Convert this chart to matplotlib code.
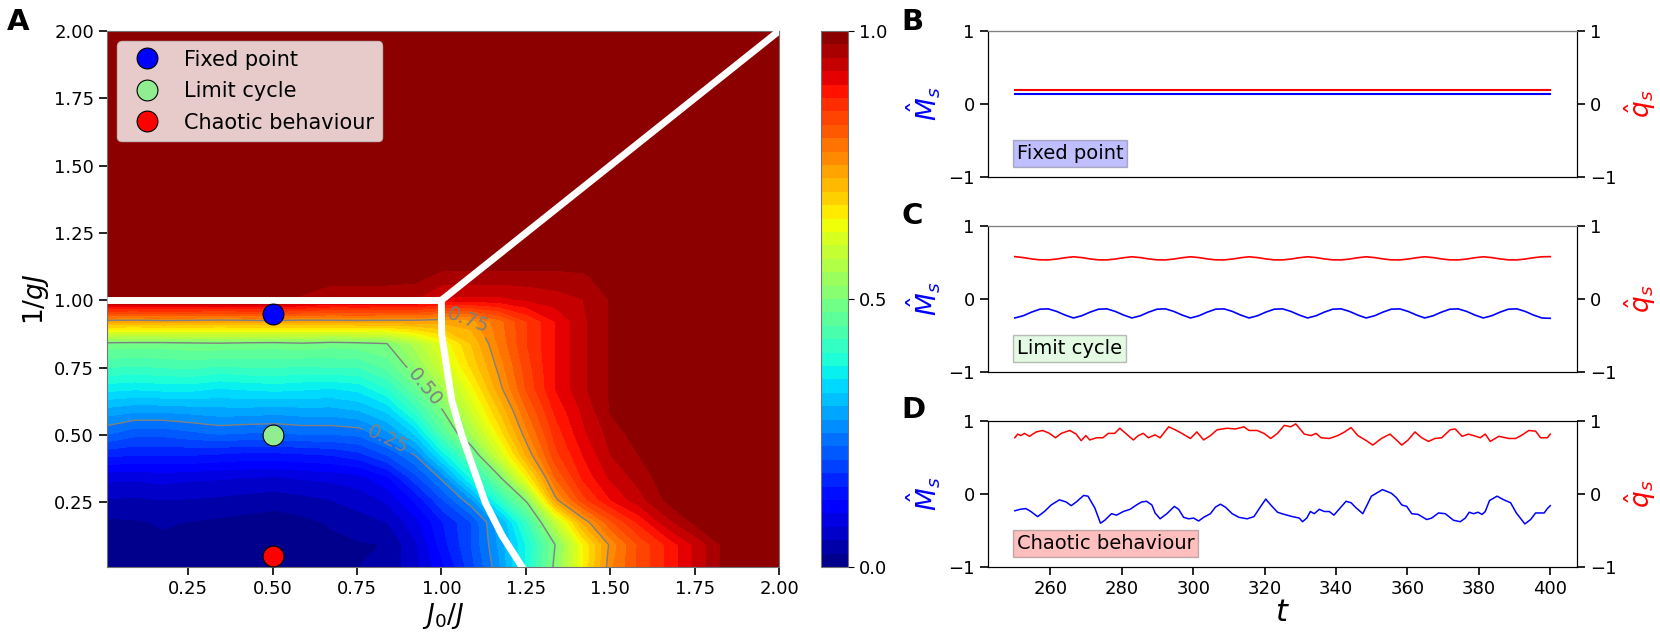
import matplotlib
matplotlib.use('Agg')
import matplotlib.pyplot as plt
import numpy as np


# ---- panel A: fraction map on a 25 x 25 grid (rows = 1/gJ, cols = J0/J) ----
J0_GRID = np.linspace(0.01, 2.0, 25)
INV_G_GRID = np.linspace(0.01, 2.0, 25)

R00 = [0.010, 0.012, 0.014, 0.012, 0.010, 0.012, 0.010, 0.012, 0.016, 0.025, 0.035, 0.065, 0.12,
       0.19, 0.27, 0.38, 0.51, 0.65, 0.77, 0.83, 0.88, 0.93, 0.98, 1.0, 1.0]
R01 = [0.014, 0.016, 0.018, 0.016, 0.014, 0.016, 0.014, 0.016, 0.018, 0.022, 0.026, 0.07, 0.14,
       0.20, 0.28, 0.38, 0.50, 0.65, 0.76, 0.83, 0.88, 0.93, 0.98, 1.0, 1.0]
R02 = [0.020, 0.022, 0.028, 0.024, 0.020, 0.016, 0.012, 0.018, 0.028, 0.040, 0.050, 0.09, 0.15,
       0.20, 0.29, 0.42, 0.58, 0.73, 0.82, 0.88, 0.94, 0.98, 1.0, 1.0, 1.0]
R03 = [0.048, 0.046, 0.050, 0.048, 0.045, 0.040, 0.036, 0.042, 0.050, 0.060, 0.080, 0.13, 0.20,
       0.27, 0.40, 0.51, 0.74, 0.84, 0.90, 0.94, 0.98, 1.0, 1.0, 1.0, 1.0]
R04 = [0.082, 0.080, 0.085, 0.080, 0.078, 0.075, 0.072, 0.078, 0.082, 0.090, 0.12, 0.19, 0.26,
       0.38, 0.49, 0.65, 0.80, 0.88, 0.93, 0.96, 0.99, 1.0, 1.0, 1.0, 1.0]
R05 = [0.155, 0.150, 0.150, 0.150, 0.145, 0.140, 0.140, 0.145, 0.150, 0.165, 0.20, 0.25, 0.36,
       0.46, 0.60, 0.73, 0.84, 0.90, 0.95, 0.975, 1.0, 1.0, 1.0, 1.0, 1.0]
R06 = [0.230, 0.210, 0.210, 0.220, 0.230, 0.225, 0.225, 0.230, 0.230, 0.235, 0.27, 0.33, 0.45,
       0.55, 0.66, 0.77, 0.86, 0.92, 0.96, 0.99, 1.0, 1.0, 1.0, 1.0, 1.0]
R07 = [0.290, 0.280, 0.280, 0.285, 0.290, 0.290, 0.285, 0.290, 0.290, 0.300, 0.33, 0.41, 0.50,
       0.60, 0.70, 0.80, 0.88, 0.93, 0.978, 1.0, 1.0, 1.0, 1.0, 1.0, 1.0]
R08 = [0.360, 0.355, 0.360, 0.360, 0.350, 0.355, 0.360, 0.355, 0.350, 0.360, 0.40, 0.47, 0.55,
       0.64, 0.74, 0.83, 0.90, 0.945, 0.978, 1.0, 1.0, 1.0, 1.0, 1.0, 1.0]
R09 = [0.430, 0.425, 0.430, 0.435, 0.425, 0.430, 0.430, 0.425, 0.430, 0.430, 0.46, 0.52, 0.60,
       0.68, 0.76, 0.84, 0.90, 0.945, 0.978, 1.0, 1.0, 1.0, 1.0, 1.0, 1.0]
R10 = [0.490, 0.488, 0.488, 0.492, 0.495, 0.490, 0.488, 0.495, 0.485, 0.490, 0.50, 0.56, 0.63,
       0.70, 0.78, 0.85, 0.90, 0.945, 0.978, 1.0, 1.0, 1.0, 1.0, 1.0, 1.0]
R11 = [0.740, 0.738, 0.742, 0.740, 0.736, 0.740, 0.742, 0.738, 0.740, 0.742, 0.74, 0.74, 0.735,
       0.74, 0.79, 0.85, 0.90, 0.945, 0.978, 1.0, 1.0, 1.0, 1.0, 1.0, 1.0]
R12 = [0.980, 0.980, 0.980, 0.980, 0.980, 0.980, 0.985, 0.970, 0.950, 0.950, 0.95, 0.95, 0.92,
       0.92, 0.92, 0.93, 0.94, 0.95, 0.978, 1.0, 1.0, 1.0, 1.0, 1.0, 1.0]
R13 = [1.0, 1.0, 1.0, 1.0, 1.0, 1.0, 1.0, 0.995, 0.99, 0.99, 0.99, 0.985, 0.965,
       0.965, 0.965, 0.965, 0.965, 0.97, 0.99, 1.0, 1.0, 1.0, 1.0, 1.0, 1.0]
R_SAT = [1.0, 1.0, 1.0, 1.0, 1.0, 1.0, 1.0, 1.0, 1.0, 1.0, 1.0, 1.0, 1.0,
         1.0, 1.0, 1.0, 1.0, 1.0, 1.0, 1.0, 1.0, 1.0, 1.0, 1.0, 1.0]  # rows 14..24 saturated
FRACTION = np.array([R00, R01, R02, R03, R04, R05, R06, R07, R08, R09, R10, R11, R12, R13]
                    + [R_SAT] * 11)

# phase boundaries (white lines)
BOUND_H_X = [0.01, 1.0]
BOUND_H_Y = [1.0, 1.0]
BOUND_DIAG_X = [1.0, 2.0]
BOUND_DIAG_Y = [1.0, 2.0]
BOUND_CURVE_X = [1.0, 1.001, 1.016, 1.031, 1.06, 1.095, 1.13, 1.18, 1.244]
BOUND_CURVE_Y = [1.0, 0.874, 0.75, 0.627, 0.5, 0.376, 0.25, 0.126, 0.0]

# sample points
SAMPLE_NAMES = ['Fixed point', 'Limit cycle', 'Chaotic behaviour']
SAMPLE_J0 = [0.5, 0.5, 0.5]
SAMPLE_INV_G = [0.95, 0.5, 0.05]
SAMPLE_COLORS = ['blue', 'lightgreen', 'red']

# ---- panel B: fixed point ----
FP_T = [250, 400]
FP_M = [0.13, 0.13]
FP_Q = [0.19, 0.19]

# ---- panel C: limit cycle (8 samples per period) ----
LC_T = np.linspace(250, 400, 65)
LC_M = [-0.26, -0.23, -0.18, -0.14, -0.135, -0.17, -0.22, -0.26,
        -0.23, -0.18, -0.14, -0.135, -0.17, -0.22, -0.26,
        -0.23, -0.18, -0.14, -0.135, -0.17, -0.22, -0.26,
        -0.23, -0.18, -0.14, -0.135, -0.17, -0.22, -0.26,
        -0.23, -0.18, -0.14, -0.135, -0.17, -0.22, -0.26,
        -0.23, -0.18, -0.14, -0.135, -0.17, -0.22, -0.26,
        -0.23, -0.18, -0.14, -0.135, -0.17, -0.22, -0.26,
        -0.23, -0.18, -0.14, -0.135, -0.17, -0.22, -0.26,
        -0.23, -0.18, -0.14, -0.135, -0.17, -0.22, -0.26, -0.265]
LC_Q = [0.580, 0.567, 0.549, 0.536, 0.535, 0.547, 0.565, 0.578,
        0.567, 0.549, 0.536, 0.535, 0.547, 0.565, 0.578,
        0.567, 0.549, 0.536, 0.535, 0.547, 0.565, 0.578,
        0.567, 0.549, 0.536, 0.535, 0.547, 0.565, 0.578,
        0.567, 0.549, 0.536, 0.535, 0.547, 0.565, 0.578,
        0.567, 0.549, 0.536, 0.535, 0.547, 0.565, 0.578,
        0.567, 0.549, 0.536, 0.535, 0.547, 0.565, 0.578,
        0.567, 0.549, 0.536, 0.535, 0.547, 0.565, 0.578,
        0.567, 0.549, 0.536, 0.535, 0.547, 0.565, 0.578, 0.580]

# ---- panel D: chaotic behaviour ----
CH_T_M = [250, 251.5, 253.1, 254.5, 256.4, 258.3, 260.2, 262.5, 264.4, 265.8, 267.2, 269.3,
          270.5, 272.4, 274.0, 275.2, 277.1, 278.5, 280.4, 282.3, 284.1, 285.5, 286.9, 288.4,
          289.3, 290.7, 292.6, 294.7, 295.9, 297.3, 298.7, 300.1, 301.5, 302.9, 304.8, 306.2,
          307.6, 309.0, 310.9, 312.8, 315.1, 317.0, 318.9, 320.3, 321.7, 323.6, 325.5, 327.8,
          329.7, 330.6, 331.8, 332.8, 333.9, 335.3, 336.7, 338.1, 339.4, 341.0, 342.8, 344.2,
          345.6, 347.5, 349.9, 353.0, 355.5, 356.9, 358.4, 359.8, 361.2, 363.0, 365.4, 366.8,
          368.7, 370.6, 372.9, 374.8, 376.2, 377.3, 378.5, 379.8, 380.9, 381.8, 383.0, 385.1,
          387.0, 388.9, 390.5, 392.9, 394.5, 395.9, 398.3, 399.2, 400]
CH_M = [-0.23, -0.21, -0.20, -0.24, -0.31, -0.24, -0.15, -0.08, -0.11, -0.16, -0.11, -0.02,
        -0.03, -0.19, -0.40, -0.36, -0.27, -0.29, -0.24, -0.21, -0.15, -0.11, -0.10, -0.15,
        -0.26, -0.34, -0.27, -0.17, -0.21, -0.32, -0.34, -0.33, -0.37, -0.32, -0.27, -0.18,
        -0.14, -0.18, -0.27, -0.32, -0.34, -0.31, -0.17, -0.07, -0.15, -0.25, -0.28, -0.31,
        -0.33, -0.38, -0.33, -0.24, -0.27, -0.21, -0.24, -0.24, -0.29, -0.20, -0.10, -0.12,
        -0.19, -0.27, -0.03, 0.06, 0.01, -0.05, -0.15, -0.17, -0.27, -0.28, -0.35, -0.33,
        -0.26, -0.27, -0.36, -0.38, -0.33, -0.25, -0.27, -0.25, -0.28, -0.24, -0.09, -0.03,
        -0.08, -0.12, -0.26, -0.41, -0.35, -0.26, -0.26, -0.20, -0.16]
CH_T_Q = [250, 250.8, 251.7, 252.7, 254.1, 256.0, 257.8, 259.7, 261.4, 263.0, 265.4, 267.2,
          268.6, 269.9, 271.0, 272.9, 274.7, 276.2, 278.0, 279.4, 281.3, 283.2, 284.6, 286.0,
          287.4, 289.3, 290.7, 293.1, 294.9, 296.8, 299.2, 301.0, 302.9, 304.8, 306.7, 309.5,
          311.8, 314.2, 315.6, 317.9, 319.8, 321.7, 323.6, 325.5, 327.3, 328.7, 331.1, 333.0,
          334.4, 335.8, 338.1, 340.5, 342.4, 344.2, 346.1, 348.5, 350.3, 352.7, 355.1, 356.9,
          358.4, 360.2, 362.1, 364.0, 365.9, 367.7, 369.6, 372.0, 373.4, 375.3, 377.1, 378.5,
          380.4, 381.8, 383.2, 385.6, 388.4, 390.3, 392.2, 394.0, 395.9, 397.3, 399.2, 400]
CH_Q = [0.77, 0.82, 0.80, 0.83, 0.79, 0.85, 0.87, 0.83, 0.77, 0.83, 0.87, 0.82,
        0.73, 0.80, 0.74, 0.77, 0.77, 0.83, 0.83, 0.90, 0.82, 0.74, 0.80, 0.83,
        0.77, 0.81, 0.77, 0.92, 0.88, 0.83, 0.76, 0.85, 0.74, 0.80, 0.88, 0.90,
        0.89, 0.92, 0.87, 0.87, 0.83, 0.76, 0.83, 0.94, 0.92, 0.96, 0.82, 0.80,
        0.83, 0.77, 0.76, 0.80, 0.85, 0.91, 0.80, 0.73, 0.67, 0.76, 0.82, 0.74,
        0.67, 0.74, 0.85, 0.77, 0.72, 0.76, 0.77, 0.88, 0.89, 0.79, 0.82, 0.80,
        0.77, 0.82, 0.72, 0.79, 0.76, 0.76, 0.81, 0.87, 0.86, 0.77, 0.77, 0.82]

TICK_SIZE = 13
LABEL_SIZE = 19

plt.rcParams['font.family'] = 'DejaVu Sans'
fig = plt.figure(figsize=(16.6, 6.36), dpi=100)

# ---------------- panel A ----------------
ax_a = fig.add_axes([0.0645, 0.1085, 0.4048, 0.8428])
levels = np.linspace(0, 1, 41)
cf = ax_a.contourf(J0_GRID, INV_G_GRID, FRACTION, levels=levels, cmap='jet')
cs = ax_a.contour(J0_GRID, INV_G_GRID, FRACTION, levels=[0.25, 0.5, 0.75],
                  colors='grey', linewidths=1)
ax_a.clabel(cs, fmt='%.2f', fontsize=14, inline=True,
            manual=[(1.08, 0.95), (0.955, 0.68), (0.84, 0.48)])

ax_a.plot(BOUND_H_X, BOUND_H_Y, color='white', lw=5, solid_capstyle='butt', zorder=4)
ax_a.plot(BOUND_DIAG_X, BOUND_DIAG_Y, color='white', lw=5, zorder=4)
ax_a.plot(BOUND_CURVE_X, BOUND_CURVE_Y, color='white', lw=5, zorder=4)
for name, x, y, c in zip(SAMPLE_NAMES, SAMPLE_J0, SAMPLE_INV_G, SAMPLE_COLORS):
    ax_a.plot(x, y, 'o', color=c, mec='black', mew=0.8, ms=15, label=name, zorder=5)
ax_a.legend(loc='upper left', fontsize=15, labelspacing=0.55)

ax_a.set_xlim(0.01, 2.0)
ax_a.set_ylim(0.01, 2.0)
ticks = [0.25, 0.5, 0.75, 1.0, 1.25, 1.5, 1.75, 2.0]
ax_a.set_xticks(ticks, [f'{v:.2f}' for v in ticks])
ax_a.set_yticks(ticks, [f'{v:.2f}' for v in ticks])
ax_a.tick_params(labelsize=TICK_SIZE, length=6, width=1.2)
ax_a.set_xlabel(r'$J_0/J$', fontsize=LABEL_SIZE, labelpad=2)
ax_a.set_ylabel(r'$1/gJ$', fontsize=LABEL_SIZE, labelpad=2)
for sp in ax_a.spines.values():
    sp.set_color('0.45')

cax = fig.add_axes([0.4946, 0.1085, 0.0163, 0.8428])
cb = fig.colorbar(cf, cax=cax, ticks=[0, 0.5, 1.0])
cb.ax.tick_params(labelsize=TICK_SIZE, length=4)
cb.outline.set_edgecolor('0.45')

# ---------------- panels B, C, D ----------------
right_boxes = [[0.5952, 0.7217, 0.3548, 0.2296],
               [0.5952, 0.4151, 0.3548, 0.2296],
               [0.5952, 0.1085, 0.3548, 0.2296]]
series = [(FP_T, FP_M, FP_T, FP_Q, 1.5), (LC_T, LC_M, LC_T, LC_Q, 1.2),
          (CH_T_M, CH_M, CH_T_Q, CH_Q, 1.1)]
box_colors = ['blue', 'lightgreen', 'red']

for i, (box, (tm, m, tq, q, lw)) in enumerate(zip(right_boxes, series)):
    ax = fig.add_axes(box)
    ax_r = ax.twinx()
    ax.plot(tm, m, color='blue', lw=lw)
    ax_r.plot(tq, q, color='red', lw=lw)
    for a in (ax, ax_r):
        a.set_ylim(-1, 1)
        a.set_yticks([-1, 0, 1])
        a.tick_params(labelsize=TICK_SIZE, length=6, width=1.2)
    ax.set_xlim(242.5, 407.5)
    ax.set_ylabel(r'$\hat{M}_s$', color='blue', fontsize=LABEL_SIZE)
    ax_r.set_ylabel(r'$\hat{q}_s$', color='red', fontsize=LABEL_SIZE)
    ax.text(250.5, -0.68, SAMPLE_NAMES[i], fontsize=14, va='center', ha='left',
            bbox=dict(facecolor=box_colors[i], alpha=0.25, pad=3))
    if i < 2:
        ax.tick_params(axis='x', bottom=False, labelbottom=False)
        ax_r.spines['top'].set_color('0.5')
    else:
        ax.set_xticks([260, 280, 300, 320, 340, 360, 380, 400])
        ax.set_xlabel(r'$t$', fontsize=22, labelpad=0)

# panel letters
fig.text(0.004, 0.988, 'A', fontsize=21, fontweight='bold', va='top')
fig.text(0.543, 0.988, 'B', fontsize=21, fontweight='bold', va='top')
fig.text(0.543, 0.682, 'C', fontsize=21, fontweight='bold', va='top')
fig.text(0.543, 0.377, 'D', fontsize=21, fontweight='bold', va='top')

fig.savefig('out.png', dpi=100)
